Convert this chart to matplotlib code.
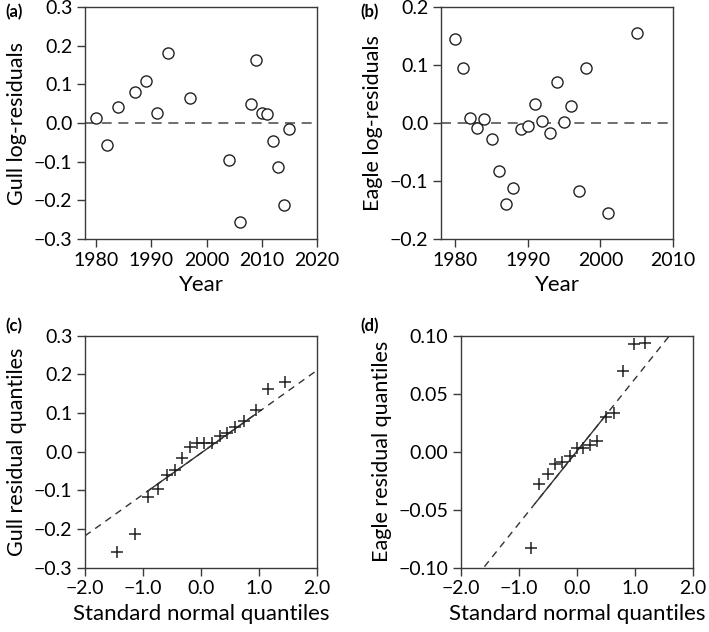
import matplotlib
matplotlib.use("Agg")
import matplotlib.pyplot as plt

plt.rcParams['font.family'] = ['Lato', 'DejaVu Sans']

# (a) gull log-residuals by year
gull_year = [1980, 1982, 1984, 1987, 1989, 1991, 1993, 1997, 2004, 2006,
             2008, 2009, 2010, 2011, 2012, 2013, 2014, 2015]
gull_resid = [0.013, -0.057, 0.041, 0.079, 0.108, 0.025, 0.182, 0.065, -0.095, -0.257,
              0.049, 0.162, 0.025, 0.023, -0.046, -0.114, -0.212, -0.015]

# (b) eagle log-residuals by year
eagle_year = [1980, 1981, 1982, 1983, 1984, 1985, 1986, 1987, 1988, 1989, 1990,
              1991, 1992, 1993, 1994, 1995, 1996, 1997, 1998, 2001, 2005]
eagle_resid = [0.145, 0.094, 0.009, -0.008, 0.007, -0.028, -0.083, -0.140, -0.112, -0.010, -0.005,
               0.033, 0.003, -0.018, 0.070, 0.002, 0.030, -0.117, 0.095, -0.155, 0.155]

# (c) gull normal Q-Q
gull_theo = [-1.44, -1.14, -0.92, -0.75, -0.59, -0.45, -0.32, -0.19, -0.07,
             0.06, 0.19, 0.32, 0.45, 0.59, 0.75, 0.94, 1.15, 1.45]
gull_samp = [-0.260, -0.212, -0.116, -0.097, -0.059, -0.048, -0.016, 0.012, 0.022,
             0.022, 0.022, 0.041, 0.048, 0.063, 0.079, 0.108, 0.161, 0.181]
gull_line = (-0.0035, 0.107)      # intercept, slope
gull_solid = (-0.92, 0.93)

# (d) eagle normal Q-Q (points outside +-0.1 are off the axes)
eagle_theo = [-0.79, -0.65, -0.50, -0.38, -0.25, -0.12, 0.00, 0.10,
              0.23, 0.35, 0.50, 0.63, 0.79, 0.99, 1.18]
eagle_samp = [-0.083, -0.028, -0.019, -0.011, -0.009, -0.004, 0.003, 0.003,
              0.006, 0.009, 0.030, 0.033, 0.070, 0.093, 0.094]
eagle_line = (0.0005, 0.0624)
eagle_solid = (-0.72, 0.53)

fig = plt.figure(figsize=(7.09, 6.32), dpi=100)
ax_a = fig.add_axes([0.1199, 0.6218, 0.3272, 0.3671])
ax_b = fig.add_axes([0.6220, 0.6218, 0.3272, 0.3671])
ax_c = fig.add_axes([0.1199, 0.1017, 0.3272, 0.3671])
ax_d = fig.add_axes([0.6502, 0.1017, 0.3272, 0.3671])

edge = '#3a3a3a'
dash = (0, (6, 4))

def style(ax):
    for s in ax.spines.values():
        s.set_color(edge)
        s.set_linewidth(1.0)
    ax.tick_params(direction='out', length=6, width=1.0, color=edge,
                   labelsize=14, pad=3, top=False, right=False)
    ax.xaxis.label.set_size(16)
    ax.yaxis.label.set_size(15.5)

# residual panels
for ax, x, y, lim, yt, lab in [
        (ax_a, gull_year, gull_resid, (1978, 2020), [-0.3, -0.2, -0.1, 0.0, 0.1, 0.2, 0.3], 'Gull log-residuals'),
        (ax_b, eagle_year, eagle_resid, (1978, 2010), [-0.2, -0.1, 0.0, 0.1, 0.2], 'Eagle log-residuals')]:
    ax.axhline(0, color='#555555', lw=1.2, linestyle=dash, zorder=1)
    ax.plot(x, y, 'o', mfc='white', mec='#222222', mew=1.0, ms=8, zorder=2)
    ax.set_xlim(*lim)
    ax.set_ylim(yt[0], yt[-1])
    ax.set_yticks(yt)
    ax.set_yticklabels(['\u2212%.1f' % -v if v < 0 else '%.1f' % v for v in yt])
    ax.set_xticks(range(1980, lim[1] + 1, 10))
    ax.set_xlabel('Year', labelpad=5)
    ax.set_ylabel(lab, labelpad=5)
    style(ax)

# Q-Q panels
for ax, tx, sy, line, solid, yt, fmt, lab in [
        (ax_c, gull_theo, gull_samp, gull_line, gull_solid,
         [-0.3, -0.2, -0.1, 0.0, 0.1, 0.2, 0.3], '%.1f', 'Gull residual quantiles'),
        (ax_d, eagle_theo, eagle_samp, eagle_line, eagle_solid,
         [-0.10, -0.05, 0.0, 0.05, 0.10], '%.2f', 'Eagle residual quantiles')]:
    b0, b1 = line
    ax.plot([-2, 2], [b0 - 2 * b1, b0 + 2 * b1], color='#333333', lw=1.0, linestyle=(0, (5, 4)), zorder=1)
    ax.plot(list(solid), [b0 + b1 * solid[0], b0 + b1 * solid[1]], color='#333333', lw=1.0, zorder=1)
    ax.plot(tx, sy, '+', color='#222222', ms=9, mew=1.1, zorder=2)
    ax.set_xlim(-2, 2)
    ax.set_ylim(yt[0], yt[-1])
    ax.set_xticks([-2, -1, 0, 1, 2])
    ax.set_xticklabels(['\u22122.0', '\u22121.0', '0.0', '1.0', '2.0'])
    ax.set_yticks(yt)
    ax.set_yticklabels(['\u2212' + fmt % -v if v < 0 else fmt % v for v in yt])
    ax.set_xlabel('Standard normal quantiles', labelpad=5)
    ax.set_ylabel(lab, labelpad=5)
    style(ax)

for lbl, x, y in [('(a)', 5, 12), ('(b)', 360, 12), ('(c)', 5, 326), ('(d)', 360, 326)]:
    fig.text(x / 709, 1 - y / 632, lbl, fontsize=12, fontweight='bold', va='center', ha='left')

fig.savefig('out.png', dpi=100)
